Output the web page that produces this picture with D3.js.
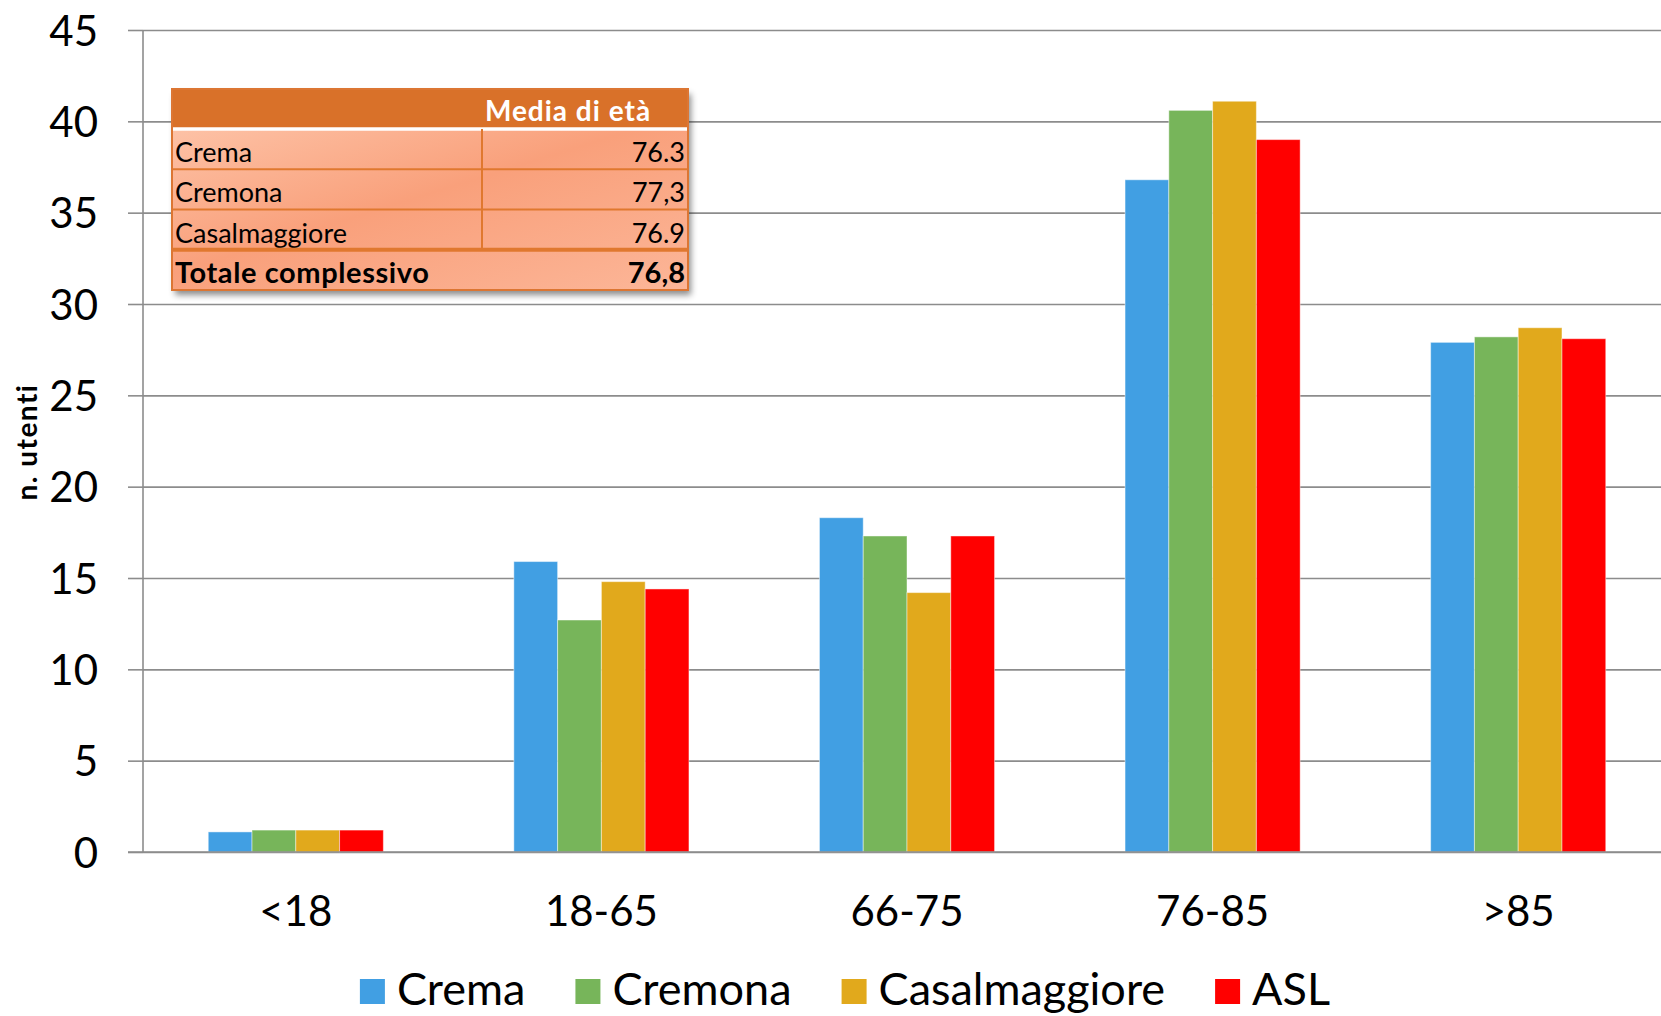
<!DOCTYPE html>
<html>
<head>
<meta charset="utf-8">
<script src="https://cdn.jsdelivr.net/npm/d3@7"></script>
<style>
  html, body { margin: 0; padding: 0; background: #fff; }
  svg { display: block; font-family: Lato, "Open Sans", sans-serif; }
</style>
</head>
<body>
<svg id="chart" width="1661" height="1016"></svg>
<script>
// Age groups on the x axis
const categories = ["<18", "18-65", "66-75", "76-85", ">85"];
// Series (one per area), percentages of users per age group
const seriesNames = ["Crema", "Cremona", "Casalmaggiore", "ASL"];
const cremaValues = [1.1, 15.9, 18.3, 36.8, 27.9];
const cremonaValues = [1.2, 12.7, 17.3, 40.6, 28.2];
const casalmaggioreValues = [1.2, 14.8, 14.2, 41.1, 28.7];
const aslValues = [1.2, 14.4, 17.3, 39.0, 28.1];
const seriesColors = ["#419FE3", "#77B55A", "#E1A91C", "#FF0000"];
// Y axis ticks
const yTicks = [0, 5, 10, 15, 20, 25, 30, 35, 40, 45];
// Inset table: mean age per area
const tableHeader = "Media di età";
const tableLabels = ["Crema", "Cremona", "Casalmaggiore"];
const tableValues = ["76.3", "77,3", "76.9"];
const totalLabel = "Totale complessivo";
const totalValue = "76,8";

const seriesValues = [cremaValues, cremonaValues, casalmaggioreValues, aslValues];

(function draw() {
  const svg = d3.select("#chart");
  const W = 1661;
  const plotLeft = 143, plotRight = 1671, plotTop = 30, plotBottom = 852;

  const y = d3.scaleLinear().domain([0, 45]).range([plotBottom, plotTop]);
  const x0 = d3.scaleBand().domain(categories).range([plotLeft, plotRight])
    .paddingInner(0.427).paddingOuter(0.2135);
  const x1 = d3.scaleBand().domain(seriesNames).range([0, x0.bandwidth()]);
  const color = d3.scaleOrdinal().domain(seriesNames).range(seriesColors);

  // Horizontal gridlines
  const grid = svg.append("g").attr("transform", `translate(${plotLeft},0)`)
    .call(d3.axisLeft(y).tickValues(yTicks).tickSize(-(W - plotLeft)).tickFormat(""));
  grid.select(".domain").remove();
  grid.selectAll("line").attr("stroke", "#8c8c8c").attr("stroke-width", 1.6);

  // Bars
  const rows = categories.map((c, i) => ({ cat: c, vals: seriesNames.map((s, j) => ({ s, v: seriesValues[j][i] })) }));
  svg.append("g").selectAll("g").data(rows).join("g")
    .attr("transform", d => `translate(${x0(d.cat)},0)`)
    .selectAll("rect").data(d => d.vals).join("rect")
    .attr("x", d => x1(d.s))
    .attr("y", d => y(d.v))
    .attr("width", x1.bandwidth())
    .attr("height", d => y(0) - y(d.v))
    .attr("fill", d => color(d.s))
    .attr("stroke", "rgba(255,255,255,0.45)")
    .attr("stroke-width", 1);

  // Y axis with ticks and labels
  const yAxis = svg.append("g").attr("transform", `translate(${plotLeft},0)`)
    .call(d3.axisLeft(y).tickValues(yTicks).tickSize(15).tickPadding(30));
  yAxis.select(".domain").attr("stroke", "#8c8c8c").attr("stroke-width", 1.6)
    .attr("d", `M0,${plotTop}V${plotBottom}`);
  yAxis.selectAll(".tick line").attr("stroke", "#8c8c8c").attr("stroke-width", 1.6);
  yAxis.selectAll(".tick text").attr("font-size", 42).attr("fill", "#000")
    .attr("font-family", "Lato, sans-serif").attr("dy", "0.36em");

  // X axis baseline
  svg.append("line").attr("x1", plotLeft - 15).attr("x2", W).attr("y1", y(0)).attr("y2", y(0))
    .attr("stroke", "#8c8c8c").attr("stroke-width", 1.6);

  // X axis labels
  const xAxis = svg.append("g").attr("transform", `translate(0,${plotBottom})`)
    .call(d3.axisBottom(x0).tickSize(0).tickPadding(0));
  xAxis.select(".domain").remove();
  xAxis.selectAll(".tick text").attr("font-size", 42).attr("fill", "#000")
    .attr("font-family", "Lato, sans-serif").attr("y", 74).attr("dy", 0);

  // Y axis title
  svg.append("text").attr("transform", "translate(37,442) rotate(-90)")
    .attr("text-anchor", "middle").attr("font-size", 28).attr("font-weight", 700)
    .attr("letter-spacing", 1.5)
    .text("n. utenti");

  // Legend, centered under the plot
  const legend = svg.append("g");
  let lx = 0;
  seriesNames.forEach((s) => {
    const g = legend.append("g").attr("transform", `translate(${lx},0)`);
    g.append("rect").attr("x", 0).attr("y", 979).attr("width", 25).attr("height", 25).attr("fill", color(s));
    const t = g.append("text").attr("x", 37).attr("y", 1005).attr("font-size", 45).text(s);
    lx += 37 + t.node().getComputedTextLength() + 50;
  });
  lx -= 50;
  legend.attr("transform", `translate(${845 - lx / 2},0)`);

  // Inset table
  const defs = svg.append("defs");
  const grad = defs.append("linearGradient").attr("id", "rowFill")
    .attr("x1", "0%").attr("y1", "0%").attr("x2", "100%").attr("y2", "100%");
  grad.append("stop").attr("offset", "0%").attr("stop-color", "#fdc2a6");
  grad.append("stop").attr("offset", "45%").attr("stop-color", "#f9a07b");
  grad.append("stop").attr("offset", "100%").attr("stop-color", "#fcb698");
  const shadow = defs.append("filter").attr("id", "shadow")
    .attr("x", "-5%").attr("y", "-5%").attr("width", "115%").attr("height", "125%");
  shadow.append("feDropShadow").attr("dx", 3).attr("dy", 5).attr("stdDeviation", 3)
    .attr("flood-color", "#000").attr("flood-opacity", 0.45);

  const tX = 172, tY = 89, tW = 516, headH = 40, rowH = 40.25, colX = 482;
  const table = svg.append("g");
  const bodyRows = tableLabels.length + 1;
  table.append("rect").attr("x", tX).attr("y", tY).attr("width", tW)
    .attr("height", headH + rowH * bodyRows).attr("fill", "#fff").attr("filter", "url(#shadow)");
  table.append("rect").attr("x", tX).attr("y", tY).attr("width", tW).attr("height", headH).attr("fill", "#d97129");
  table.append("rect").attr("x", tX).attr("y", tY + headH).attr("width", tW)
    .attr("height", rowH * bodyRows).attr("fill", "url(#rowFill)");
  table.append("line").attr("x1", tX).attr("x2", tX + tW).attr("y1", tY + headH).attr("y2", tY + headH)
    .attr("stroke", "#fff").attr("stroke-width", 3.5);
  table.append("text").attr("x", 568).attr("y", tY + 32).attr("text-anchor", "middle")
    .attr("font-size", 28).attr("letter-spacing", 1).attr("font-weight", 700).attr("fill", "#fff")
    .text(tableHeader);

  const allLabels = tableLabels.concat([totalLabel]);
  const allValues = tableValues.concat([totalValue]);
  allLabels.forEach((lab, i) => {
    const ry = tY + headH + rowH * i;
    const bold = i === allLabels.length - 1;
    if (i > 0) {
      table.append("line").attr("x1", tX).attr("x2", tX + tW).attr("y1", ry).attr("y2", ry)
        .attr("stroke", "#e0782f").attr("stroke-width", bold ? 4 : 2);
    }
    table.append("text").attr("x", tX + 3).attr("y", ry + 33).attr("font-size", bold ? 29 : 27)
      .attr("letter-spacing", bold ? 0.6 : 0)
      .attr("font-weight", bold ? 700 : 400).attr("fill", "#000").text(lab);
    table.append("text").attr("x", tX + tW - 3).attr("y", ry + 33).attr("text-anchor", "end")
      .attr("font-size", bold ? 29 : 27).attr("font-weight", bold ? 700 : 400).attr("fill", "#000")
      .text(allValues[i]);
  });
  table.append("line").attr("x1", colX).attr("x2", colX)
    .attr("y1", tY + headH).attr("y2", tY + headH + rowH * tableLabels.length)
    .attr("stroke", "#e0782f").attr("stroke-width", 2);
  table.append("rect").attr("x", tX).attr("y", tY).attr("width", tW)
    .attr("height", headH + rowH * bodyRows).attr("fill", "none")
    .attr("stroke", "#dc7633").attr("stroke-width", 2);
})();
</script>
</body>
</html>
